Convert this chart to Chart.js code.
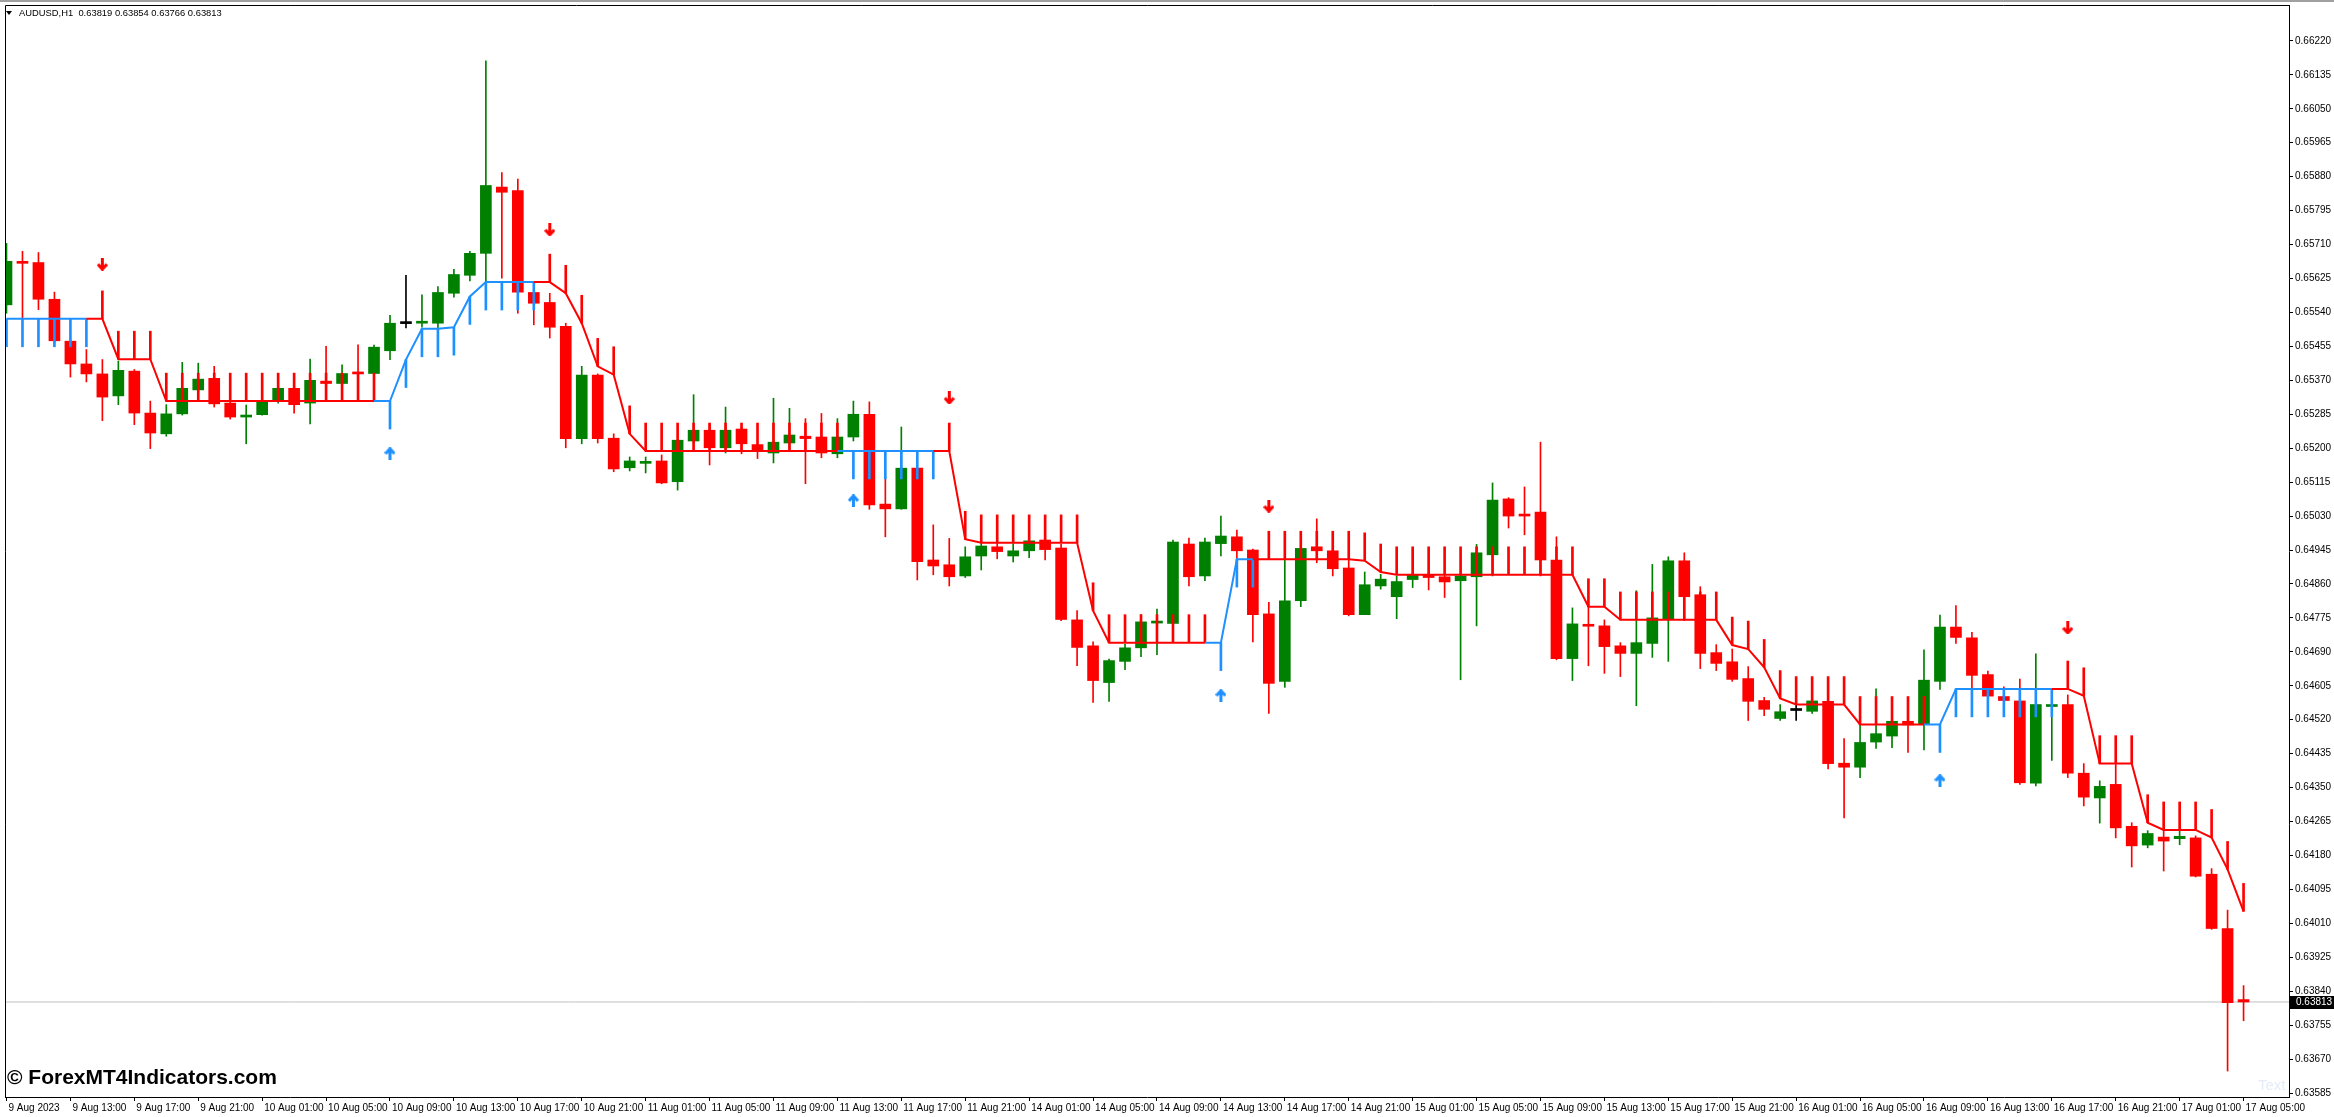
<!DOCTYPE html>
<html>
<head>
<meta charset="utf-8">
<script src="https://cdn.jsdelivr.net/npm/chart.js@4.4.0/dist/chart.umd.min.js"></script>
<style>
  html, body { margin: 0; padding: 0; background: #fff; overflow: hidden; }
  canvas { display: block; }
</style>
</head>
<body>
<canvas id="chart" width="2334" height="1117"></canvas>
<script>
// AUDUSD H1, 9 Aug 2023 09:00 .. 17 Aug 2023 05:00 (bar index 0..140)
const opens = [
  0.65559, 0.65668, 0.65665, 0.65573, 0.65468, 0.65411, 0.65386, 0.65331, 0.65393, 0.65288,
  0.65236, 0.65286, 0.65346, 0.65375, 0.65313, 0.65278, 0.65284, 0.65318, 0.65350, 0.65313,
  0.65368, 0.65362, 0.65390, 0.65387, 0.65444, 0.65512, 0.65513, 0.65513, 0.65588, 0.65633,
  0.65688, 0.65854, 0.65845, 0.65590, 0.65565, 0.65505, 0.65224, 0.65383, 0.65225, 0.65151,
  0.65162, 0.65168, 0.65116, 0.65218, 0.65245, 0.65201, 0.65248, 0.65209, 0.65188, 0.65213,
  0.65230, 0.65228, 0.65186, 0.65228, 0.65285, 0.65060, 0.65048, 0.65150, 0.64920, 0.64908,
  0.64880, 0.64930, 0.64953, 0.64930, 0.64943, 0.64970, 0.64950, 0.64770, 0.64705, 0.64613,
  0.64666, 0.64700, 0.64762, 0.64761, 0.64960, 0.64880, 0.64961, 0.64978, 0.64945, 0.64785,
  0.64616, 0.64818, 0.64953, 0.64943, 0.64900, 0.64783, 0.64855, 0.64828, 0.64871, 0.64883,
  0.64878, 0.64868, 0.64878, 0.64933, 0.65073, 0.65033, 0.65040, 0.64920, 0.64673, 0.64757,
  0.64755, 0.64705, 0.64686, 0.64711, 0.64773, 0.64918, 0.64833, 0.64688, 0.64665, 0.64623,
  0.64568, 0.64523, 0.64543, 0.64541, 0.64566, 0.64411, 0.64401, 0.64464, 0.64479, 0.64516,
  0.64508, 0.64616, 0.64752, 0.64725, 0.64633, 0.64578, 0.64567, 0.64361, 0.64553, 0.64558,
  0.64386, 0.64324, 0.64358, 0.64253, 0.64206, 0.64226, 0.64222, 0.64224, 0.64133, 0.63997,
  0.63819
];
const highs = [
  0.65713, 0.65693, 0.65690, 0.65591, 0.65472, 0.65447, 0.65422, 0.65418, 0.65397, 0.65318,
  0.65309, 0.65415, 0.65413, 0.65405, 0.65318, 0.65308, 0.65322, 0.65353, 0.65353, 0.65423,
  0.65455, 0.65409, 0.65459, 0.65458, 0.65533, 0.65633, 0.65584, 0.65605, 0.65648, 0.65693,
  0.66170, 0.65890, 0.65874, 0.65609, 0.65588, 0.65513, 0.65405, 0.65386, 0.65236, 0.65178,
  0.65178, 0.65183, 0.65220, 0.65334, 0.65261, 0.65303, 0.65253, 0.65211, 0.65325, 0.65300,
  0.65274, 0.65287, 0.65274, 0.65318, 0.65316, 0.65122, 0.65253, 0.65150, 0.65008, 0.64974,
  0.64953, 0.64963, 0.64963, 0.64961, 0.64972, 0.64972, 0.64959, 0.64793, 0.64715, 0.64672,
  0.64709, 0.64783, 0.64797, 0.64970, 0.64975, 0.64975, 0.65030, 0.64995, 0.64947, 0.64814,
  0.64922, 0.64963, 0.65023, 0.64951, 0.64922, 0.64890, 0.64884, 0.64880, 0.64886, 0.64886,
  0.64883, 0.64883, 0.64959, 0.65113, 0.65076, 0.65103, 0.65215, 0.64978, 0.64800, 0.64803,
  0.64770, 0.64713, 0.64843, 0.64909, 0.64928, 0.64938, 0.64853, 0.64708, 0.64697, 0.64653,
  0.64576, 0.64558, 0.64559, 0.64568, 0.64625, 0.64473, 0.64506, 0.64597, 0.64520, 0.64520,
  0.64695, 0.64782, 0.64806, 0.64739, 0.64642, 0.64602, 0.64622, 0.64685, 0.64560, 0.64582,
  0.64410, 0.64367, 0.64410, 0.64262, 0.64242, 0.64244, 0.64242, 0.64229, 0.64147, 0.64043,
  0.63854
];
const lows = [
  0.65538, 0.65526, 0.65547, 0.65463, 0.65378, 0.65366, 0.65269, 0.65309, 0.65259, 0.65199,
  0.65230, 0.65283, 0.65338, 0.65303, 0.65273, 0.65211, 0.65283, 0.65313, 0.65288, 0.65261,
  0.65351, 0.65343, 0.65384, 0.65384, 0.65422, 0.65501, 0.65503, 0.65501, 0.65578, 0.65619,
  0.65613, 0.65626, 0.65538, 0.65509, 0.65476, 0.65201, 0.65211, 0.65213, 0.65141, 0.65143,
  0.65138, 0.65111, 0.65095, 0.65213, 0.65158, 0.65188, 0.65186, 0.65174, 0.65163, 0.65193,
  0.65111, 0.65176, 0.65176, 0.65218, 0.65047, 0.64978, 0.65047, 0.64870, 0.64883, 0.64855,
  0.64876, 0.64895, 0.64923, 0.64915, 0.64926, 0.64920, 0.64768, 0.64655, 0.64563, 0.64566,
  0.64645, 0.64678, 0.64683, 0.64759, 0.64855, 0.64868, 0.64930, 0.64922, 0.64715, 0.64536,
  0.64601, 0.64803, 0.64913, 0.64880, 0.64780, 0.64783, 0.64847, 0.64773, 0.64851, 0.64845,
  0.64826, 0.64620, 0.64755, 0.64880, 0.65000, 0.64983, 0.64880, 0.64670, 0.64618, 0.64655,
  0.64636, 0.64628, 0.64555, 0.64676, 0.64666, 0.64768, 0.64648, 0.64643, 0.64616, 0.64518,
  0.64530, 0.64518, 0.64518, 0.64536, 0.64397, 0.64274, 0.64375, 0.64448, 0.64450, 0.64438,
  0.64444, 0.64596, 0.64711, 0.64595, 0.64576, 0.64567, 0.64358, 0.64354, 0.64418, 0.64375,
  0.64304, 0.64261, 0.64224, 0.64151, 0.64199, 0.64141, 0.64207, 0.64126, 0.63995, 0.63640,
  0.63766
];
const closes = [
  0.65668, 0.65663, 0.65573, 0.65469, 0.65411, 0.65386, 0.65328, 0.65395, 0.65288, 0.65238,
  0.65286, 0.65350, 0.65373, 0.65311, 0.65278, 0.65281, 0.65318, 0.65350, 0.65309, 0.65370,
  0.65362, 0.65387, 0.65386, 0.65453, 0.65513, 0.65512, 0.65517, 0.65590, 0.65635, 0.65688,
  0.65858, 0.65841, 0.65591, 0.65563, 0.65503, 0.65224, 0.65383, 0.65224, 0.65148, 0.65168,
  0.65167, 0.65113, 0.65220, 0.65245, 0.65201, 0.65245, 0.65211, 0.65193, 0.65215, 0.65233,
  0.65224, 0.65188, 0.65228, 0.65285, 0.65058, 0.65048, 0.65150, 0.64916, 0.64905, 0.64878,
  0.64928, 0.64955, 0.64941, 0.64943, 0.64968, 0.64946, 0.64771, 0.64701, 0.64618, 0.64668,
  0.64700, 0.64765, 0.64765, 0.64965, 0.64878, 0.64965, 0.64980, 0.64943, 0.64783, 0.64611,
  0.64818, 0.64949, 0.64943, 0.64898, 0.64783, 0.64858, 0.64872, 0.64866, 0.64883, 0.64876,
  0.64865, 0.64880, 0.64938, 0.65070, 0.65030, 0.65030, 0.64920, 0.64673, 0.64760, 0.64754,
  0.64703, 0.64686, 0.64713, 0.64775, 0.64918, 0.64828, 0.64686, 0.64661, 0.64621, 0.64566,
  0.64546, 0.64540, 0.64543, 0.64567, 0.64410, 0.64401, 0.64463, 0.64485, 0.64516, 0.64507,
  0.64619, 0.64752, 0.64726, 0.64631, 0.64579, 0.64568, 0.64362, 0.64558, 0.64555, 0.64386,
  0.64326, 0.64353, 0.64249, 0.64204, 0.64235, 0.64216, 0.64228, 0.64128, 0.63997, 0.63811,
  0.63813
];

// trailing stop line of the indicator and its direction (1 = up/blue, -1 = down/red)
const stopLine = [
  0.65524, 0.65524, 0.65524, 0.65524, 0.65524, 0.65524, 0.65524, 0.65423, 0.65423, 0.65423,
  0.65318, 0.65318, 0.65318, 0.65318, 0.65318, 0.65318, 0.65318, 0.65318, 0.65318, 0.65318,
  0.65318, 0.65318, 0.65318, 0.65318, 0.65318, 0.65422, 0.65499, 0.65499, 0.65503, 0.65580,
  0.65616, 0.65616, 0.65616, 0.65616, 0.65616, 0.65588, 0.65513, 0.65405, 0.65384, 0.65236,
  0.65193, 0.65193, 0.65193, 0.65193, 0.65193, 0.65193, 0.65193, 0.65193, 0.65193, 0.65193,
  0.65193, 0.65193, 0.65193, 0.65193, 0.65193, 0.65193, 0.65193, 0.65193, 0.65193, 0.65193,
  0.64972, 0.64963, 0.64963, 0.64963, 0.64963, 0.64963, 0.64963, 0.64963, 0.64793, 0.64713,
  0.64713, 0.64713, 0.64713, 0.64713, 0.64713, 0.64713, 0.64713, 0.64922, 0.64922, 0.64922,
  0.64922, 0.64922, 0.64922, 0.64922, 0.64922, 0.64918, 0.64890, 0.64883, 0.64883, 0.64883,
  0.64883, 0.64883, 0.64883, 0.64883, 0.64883, 0.64883, 0.64883, 0.64883, 0.64883, 0.64803,
  0.64803, 0.64770, 0.64770, 0.64770, 0.64770, 0.64770, 0.64770, 0.64770, 0.64707, 0.64697,
  0.64651, 0.64573, 0.64558, 0.64558, 0.64558, 0.64558, 0.64508, 0.64508, 0.64508, 0.64508,
  0.64508, 0.64508, 0.64597, 0.64597, 0.64597, 0.64597, 0.64597, 0.64597, 0.64597, 0.64597,
  0.64580, 0.64410, 0.64410, 0.64410, 0.64262, 0.64244, 0.64244, 0.64244, 0.64225, 0.64145,
  0.64040
];
const trend = [
   1,  1,  1,  1,  1,  1, -1, -1, -1, -1,
  -1, -1, -1, -1, -1, -1, -1, -1, -1, -1,
  -1, -1, -1, -1,  1,  1,  1,  1,  1,  1,
   1,  1,  1,  1, -1, -1, -1, -1, -1, -1,
  -1, -1, -1, -1, -1, -1, -1, -1, -1, -1,
  -1, -1, -1,  1,  1,  1,  1,  1,  1, -1,
  -1, -1, -1, -1, -1, -1, -1, -1, -1, -1,
  -1, -1, -1, -1, -1, -1,  1,  1,  1, -1,
  -1, -1, -1, -1, -1, -1, -1, -1, -1, -1,
  -1, -1, -1, -1, -1, -1, -1, -1, -1, -1,
  -1, -1, -1, -1, -1, -1, -1, -1, -1, -1,
  -1, -1, -1, -1, -1, -1, -1, -1, -1, -1,
  -1,  1,  1,  1,  1,  1,  1,  1,  1, -1,
  -1, -1, -1, -1, -1, -1, -1, -1, -1, -1,
  -1
];
const stopTick = 0.0007;

// signal arrows
const sellBars = [6, 34, 59, 79, 129];
const sellPrices = [0.65661, 0.65747, 0.65326, 0.65055, 0.64750];
const buyBars = [24, 53, 76, 121];
const buyPrices = [0.65186, 0.65068, 0.64580, 0.64367];

const bidPrice = 0.63813;

const yTickValues = [
  0.66220, 0.66135, 0.66050, 0.65965, 0.65880, 0.65795, 0.65710, 0.65625,
  0.65540, 0.65455, 0.65370, 0.65285, 0.65200, 0.65115, 0.65030, 0.64945,
  0.64860, 0.64775, 0.64690, 0.64605, 0.64520, 0.64435, 0.64350, 0.64265,
  0.64180, 0.64095, 0.64010, 0.63925, 0.63840, 0.63755, 0.63670, 0.63585
];
const xTickLabels = [
  '9 Aug 2023', '9 Aug 13:00', '9 Aug 17:00', '9 Aug 21:00',
  '10 Aug 01:00', '10 Aug 05:00', '10 Aug 09:00', '10 Aug 13:00', '10 Aug 17:00', '10 Aug 21:00',
  '11 Aug 01:00', '11 Aug 05:00', '11 Aug 09:00', '11 Aug 13:00', '11 Aug 17:00', '11 Aug 21:00',
  '14 Aug 01:00', '14 Aug 05:00', '14 Aug 09:00', '14 Aug 13:00', '14 Aug 17:00', '14 Aug 21:00',
  '15 Aug 01:00', '15 Aug 05:00', '15 Aug 09:00', '15 Aug 13:00', '15 Aug 17:00', '15 Aug 21:00',
  '16 Aug 01:00', '16 Aug 05:00', '16 Aug 09:00', '16 Aug 13:00', '16 Aug 17:00', '16 Aug 21:00',
  '17 Aug 01:00', '17 Aug 05:00'
];
const xTickBars = [
  0, 4, 8, 12, 16, 20, 24, 28, 32, 36, 40, 44, 48, 52, 56, 60, 64, 68,
  72, 76, 80, 84, 88, 92, 96, 100, 104, 108, 112, 116, 120, 124, 128, 132, 136, 140
];

const RED = '#ff0000';
const GREEN = '#008000';
const BLUE = '#1e90ff';
const FONT = "'Liberation Sans', Arial, sans-serif";

function candleColor(i) {
  if (closes[i] > opens[i]) return GREEN;
  if (closes[i] < opens[i]) return RED;
  return '#000000';
}

function makeArrow(color, up) {
  const c = document.createElement('canvas');
  c.width = 11; c.height = 13;
  const g = c.getContext('2d');
  g.strokeStyle = color;
  g.lineWidth = 3;
  g.beginPath();
  if (up) {
    g.moveTo(5.5, 13); g.lineTo(5.5, 2);
    g.moveTo(1, 6.5); g.lineTo(5.5, 1.5); g.lineTo(10, 6.5);
  } else {
    g.moveTo(5.5, 0); g.lineTo(5.5, 11);
    g.moveTo(1, 6.5); g.lineTo(5.5, 11.5); g.lineTo(10, 6.5);
  }
  g.stroke();
  return c;
}

const idx = opens.map((_, i) => i);
const colors = idx.map(candleColor);

// the scales must not push the plot area in: MT4 lets labels sit at the edges
function noPadding(s) {
  s.paddingTop = 0; s.paddingBottom = 0;
  s.paddingLeft = 0; s.paddingRight = 0;
}

const decorations = {
  id: 'decorations',
  afterDraw(chart) {
    const { ctx, chartArea: a } = chart;
    const y = chart.scales.y;
    ctx.save();
    // window frame
    ctx.fillStyle = '#a0a0a0';
    ctx.fillRect(0, 0, chart.width, 2);
    ctx.strokeStyle = '#000';
    ctx.lineWidth = 1;
    ctx.beginPath();
    ctx.moveTo(a.left + 0.5, a.bottom);
    ctx.lineTo(a.left + 0.5, a.top + 0.5);
    ctx.lineTo(a.right, a.top + 0.5);
    ctx.stroke();

    // header
    ctx.fillStyle = '#000';
    ctx.beginPath();
    ctx.moveTo(6, 11); ctx.lineTo(12, 11); ctx.lineTo(9, 15); ctx.closePath();
    ctx.fill();
    ctx.font = '9.4px ' + FONT;
    ctx.textBaseline = 'middle';
    ctx.fillText('AUDUSD,H1  0.63819 0.63854 0.63766 0.63813', 19, 13);

    // bid price label
    const by = Math.round(y.getPixelForValue(bidPrice));
    ctx.fillStyle = '#000';
    ctx.fillRect(a.right + 1, by - 6, chart.width - a.right - 1, 13);
    ctx.fillStyle = '#fff';
    ctx.font = '10px ' + FONT;
    ctx.fillText(bidPrice.toFixed(5), a.right + 7, by + 0.5);

    // watermarks
    ctx.fillStyle = '#e4ecf8';
    ctx.font = '15px ' + FONT;
    ctx.fillText('Text', 2258, 1086);
    ctx.fillStyle = '#000';
    ctx.font = 'bold 21px ' + FONT;
    ctx.fillText('\u00a9 ForexMT4Indicators.com', 7, 1078);
    ctx.restore();
  }
};

new Chart(document.getElementById('chart'), {
  type: 'bar',
  data: {
    datasets: [
      {
        type: 'line',
        label: 'sell',
        data: sellBars.map((b, k) => ({ x: b, y: sellPrices[k] })),
        showLine: false,
        pointStyle: makeArrow(RED, false),
        order: 0
      },
      {
        type: 'line',
        label: 'buy',
        data: buyBars.map((b, k) => ({ x: b, y: buyPrices[k] })),
        showLine: false,
        pointStyle: makeArrow(BLUE, true),
        order: 0
      },
      {
        type: 'line',
        label: 'stop',
        data: idx.map(i => ({ x: i, y: stopLine[i] })),
        borderWidth: 2,
        pointRadius: 0,
        tension: 0,
        borderColor: RED,
        segment: {
          borderColor: c => trend[c.p1DataIndex] > 0 ? BLUE : RED
        },
        order: 1
      },
      {
        label: 'stop ticks',
        data: idx.map(i => ({
          x: i,
          y: trend[i] > 0 ? [stopLine[i] - stopTick, stopLine[i]] : [stopLine[i], stopLine[i] + stopTick]
        })),
        backgroundColor: idx.map(i => trend[i] > 0 ? BLUE : RED),
        barThickness: 2,
        grouped: false,
        order: 2
      },
      {
        label: 'bodies',
        data: idx.map(i => ({ x: i, y: [opens[i], closes[i]] })),
        backgroundColor: colors,
        barThickness: 11,
        minBarLength: 2,
        grouped: false,
        order: 3
      },
      {
        label: 'wicks',
        data: idx.map(i => ({ x: i, y: [lows[i], highs[i]] })),
        backgroundColor: colors,
        barThickness: 1,
        grouped: false,
        order: 4
      },
      {
        type: 'line',
        label: 'bid',
        data: [{ x: -1, y: bidPrice }, { x: 145, y: bidPrice }],
        borderColor: '#c0c0c0',
        borderWidth: 1,
        pointRadius: 0,
        order: 5
      }
    ]
  },
  options: {
    responsive: false,
    animation: false,
    devicePixelRatio: 1,
    layout: { padding: { left: 2, top: 3, right: 0, bottom: 0 } },
    plugins: {
      legend: { display: false },
      tooltip: { enabled: false }
    },
    scales: {
      x: {
        type: 'linear',
        offset: false,
        min: -0.09375,
        max: 142.84375,
        afterBuildTicks: s => { s.ticks = xTickBars.map(v => ({ value: v })); },
        afterFit: s => { s.height = 20; noPadding(s); },
        ticks: {
          autoSkip: false,
          maxRotation: 0,
          align: 'start',
          labelOffset: 2,
          padding: 1,
          color: '#000',
          font: { size: 10, family: FONT },
          callback: (v, k) => xTickLabels[k]
        },
        grid: { drawOnChartArea: false, tickLength: 4, color: '#000', offset: false },
        border: { color: '#000' }
      },
      y: {
        type: 'linear',
        position: 'right',
        offset: false,
        min: 0.63575,
        max: 0.66310,
        afterBuildTicks: s => { s.ticks = yTickValues.map(v => ({ value: v })); },
        afterFit: s => { s.width = 45; noPadding(s); },
        ticks: {
          padding: 2,
          color: '#000',
          font: { size: 10, family: FONT },
          callback: v => v.toFixed(5)
        },
        grid: { drawOnChartArea: false, tickLength: 4, color: '#000' },
        border: { color: '#000' }
      }
    }
  },
  plugins: [decorations]
});
</script>
</body>
</html>
